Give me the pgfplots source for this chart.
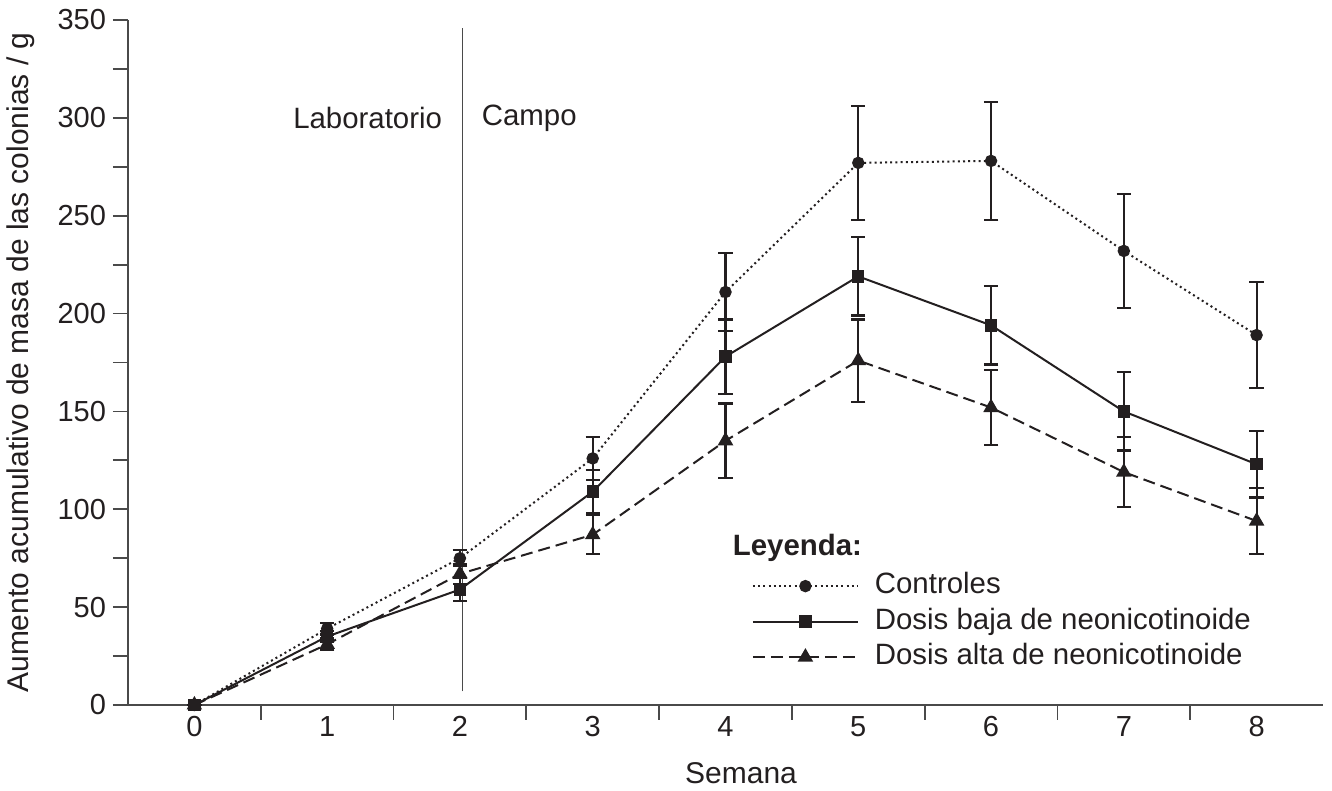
\documentclass[border=0pt]{standalone}
\usepackage{pgfplots}
\pgfplotsset{compat=1.18}
\usepackage{pgfplotstable}
\usepackage{fontspec}
\setmainfont{Liberation Sans}
\definecolor{ink}{HTML}{231F20}
\definecolor{axisgray}{HTML}{4A4A4A}

% semana, media, error
\pgfplotstableread{
x y e
0 0 0
1 39 3
2 75 4
3 126 11
4 211 20
5 277 29
6 278 30
7 232 29
8 189 27
}\controles
\pgfplotstableread{
x y e
0 0 0
1 35 3
2 59 6
3 109 11
4 178 19
5 219 20
6 194 20
7 150 20
8 123 17
}\baja
\pgfplotstableread{
x y e
0 0 0
1 31 3
2 67 5
3 87 10
4 135 19
5 176 21
6 152 19
7 119 18
8 94 17
}\alta

\begin{document}
\begin{tikzpicture}
\begin{axis}[
    scale only axis, width=597.5pt, height=342.5pt,
    xmin=-0.5, xmax=8.5, ymin=0, ymax=350,
    axis lines=left, axis line style={-, draw=axisgray, line width=0.9pt},
    clip=false,
    xtick={0,...,8}, minor xtick={0.5,1.5,...,7.5},
    ytick={0,50,...,350}, minor ytick={25,75,...,325},
    tick align=outside, major tick length=7.5pt, minor tick length=7.5pt,
    tick style={draw=axisgray, line width=0.9pt},
    major x tick style={draw=none},
    /pgf/number format/assume math mode=true,
    ticklabel style={font=\fontsize{14.5}{17}\selectfont, text=ink},
    xticklabel style={yshift=5.5pt},
    xlabel={Semana}, ylabel={Aumento acumulativo de masa de las colonias / g},
    label style={font=\fontsize{15}{18}\selectfont, text=ink},
    xlabel style={at={(axis description cs:0.513,-0.10)}, anchor=center},
    ylabel style={at={(axis description cs:-0.0895,0.5)}, anchor=center},
    every axis plot/.append style={ink, line width=1pt},
    error bars/y dir=both, error bars/y explicit,
    error bars/error bar style={solid, ink, line width=1.1pt},
    error bars/error mark options={rotate=90, mark size=3.6pt, line width=1.1pt, ink},
    legend image code/.code={\draw[mark repeat=2,mark phase=2,#1] plot coordinates {(0pt,0pt) (26.25pt,0pt) (52.5pt,0pt)};},
    legend style={draw=none, fill=none, inner sep=0pt, at={(axis cs:4.196,42.6)}, anchor=west,
        font=\fontsize{14.7}{17}\selectfont, text=ink,
        nodes={inner sep=0pt, text height=10.5pt, text depth=3pt},
        /tikz/every odd column/.append style={column sep=8pt},
        row sep=4.25pt},
    legend cell align=left,
]
\addplot[black, line width=0.9pt, draw=axisgray, forget plot] coordinates {(2.02,7) (2.02,346)};

\addplot[ink, dash pattern=on 1pt off 1.6pt, mark=*, mark size=2.6pt, mark options={solid}]
    table[x=x, y=y, y error=e] {\controles};
\addplot[ink, solid, mark=square*, mark size=2.6pt, mark options={solid}]
    table[x=x, y=y, y error=e] {\baja};
\addplot[ink, dash pattern=on 6pt off 3pt, mark=triangle*, mark size=3.5pt, mark options={solid}]
    table[x=x, y=y, y error=e] {\alta};
\legend{Controles, Dosis baja de neonicotinoide, Dosis alta de neonicotinoide}

\node[anchor=east, inner sep=0pt, text=ink, font=\fontsize{14.7}{17}\selectfont] at (axis cs:1.868,300) {Laboratorio};
\node[anchor=west, inner sep=0pt, text=ink, font=\fontsize{14.7}{17}\selectfont] at (axis cs:2.162,300) {Campo};
\node[anchor=west, inner sep=0pt, text=ink, font=\fontsize{14.7}{17}\selectfont\bfseries] at (axis cs:4.053,80.2) {Leyenda:};
\end{axis}
\pgfresetboundingbox
\path[use as bounding box] (-64pt,-43pt) rectangle (602pt,352.5pt);
\end{tikzpicture}
\end{document}
